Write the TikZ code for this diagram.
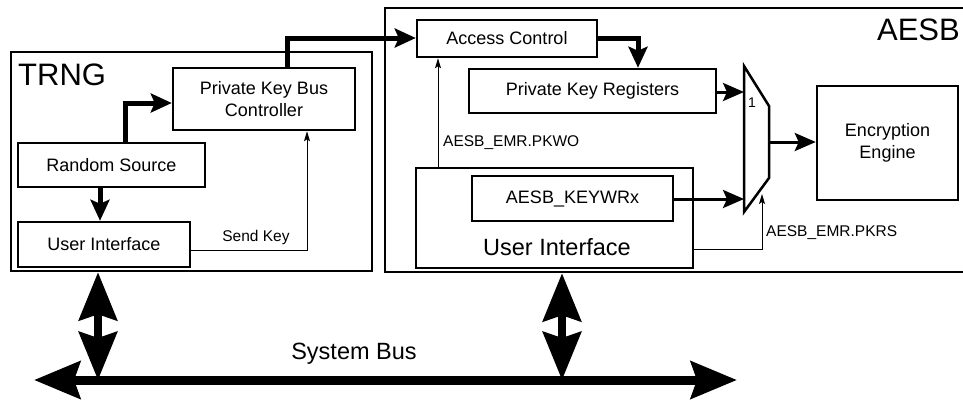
\documentclass[tikz,border=0pt]{standalone}
\usepackage{fontspec}
\setmainfont{Liberation Sans}
\usetikzlibrary{arrows.meta}
\begin{document}
\begin{tikzpicture}[x=1pt,y=-1pt,
  box/.style={draw, line width=2.5pt, inner sep=0pt, align=center, font=\fontsize{18}{22}\selectfont},
  thickarr/.style={line width=5pt, -{Stealth[length=21pt,width=19pt,inset=4pt]}},
  medarr/.style={line width=3pt, -{Stealth[length=21pt,width=18pt,inset=4pt]}},
  thinarr/.style={line width=1pt, -{Stealth[length=10pt,width=6pt,inset=2pt]}},
  busarr/.style={line width=8pt, {Stealth[length=48pt,width=38pt,inset=6pt]}-{Stealth[length=48pt,width=38pt,inset=6pt]}},
  hbusarr/.style={line width=9pt, {Stealth[length=46pt,width=37pt,inset=6pt]}-{Stealth[length=46pt,width=37pt,inset=6pt]}},
  small/.style={font=\fontsize{15.5}{18}\selectfont, inner sep=0pt},
  big/.style={font=\fontsize{31}{34}\selectfont, inner sep=0pt},
  mid/.style={font=\fontsize{23.5}{26}\selectfont, inner sep=0pt},
]
\useasboundingbox (0,0) rectangle (963,400);
\clip (0,0) rectangle (963,400);

% outer blocks
\node[box, minimum width=361pt, minimum height=219pt] (trng) at (191.5,161.5) {};
\node[box, minimum width=590pt, minimum height=264pt] (aesb) at (680,140) {};
\node[big, anchor=base west] (trnglbl) at (18,85) {TRNG};
\node[big, anchor=base east] (aesblbl) at (960,40) {AESB};

% TRNG internals
\node[box, minimum width=182pt, minimum height=62pt] (pkbc) at (264,99) {Private Key Bus\\Controller};
\node[box, minimum width=187pt, minimum height=44pt] (rs) at (111.5,165) {Random Source};
\node[box, minimum width=172pt, minimum height=45pt] (tui) at (104,244.5) {User Interface};

% AESB internals
\node[box, minimum width=180pt, minimum height=37pt] (ac) at (507,38.5) {Access Control};
\node[box, minimum width=247pt, minimum height=44pt] (pkr) at (592.5,91) {Private Key Registers};
\node[box, minimum width=277pt, minimum height=100pt] (aui) at (554.5,218) {};
\node[mid, anchor=base] (auitxt) at (557,255) {User Interface};
\node[box, minimum width=201pt, minimum height=45pt] (kw) at (572.5,198.5) {AESB\_KEYWRx};
\node[box, minimum width=141pt, minimum height=114pt] (enc) at (887.5,143) {Encryption\\Engine};

% multiplexer
\coordinate (m1) at (744,66);
\coordinate (m2) at (769,106);
\coordinate (m3) at (769,178);
\coordinate (m4) at (744,212);
\draw[line width=2.5pt, line join=miter] (m1) -- (m2) -- (m3) -- (m4) -- cycle;
\node[font=\fontsize{14}{16}\selectfont, inner sep=0pt] (one) at (752,103) {1};
\coordinate (in1) at (744,92);
\coordinate (in2) at (744,199);
\coordinate (mout) at (769,142);

% thick connectors
\coordinate (c1) at (125,103);
\draw[thickarr] (c1 |- rs.north) |- (pkbc.west |- c1);
\coordinate (c2) at (100,0);
\draw[thickarr] (c2 |- rs.south) -- (c2 |- tui.north);
\coordinate (c3) at (287,38);
\draw[thickarr] (c3 |- pkbc.north) |- (ac.west |- c3);
\coordinate (c4) at (638,38);
\draw[thickarr] (ac.east |- c4) -| (c4 |- pkr.north);

\draw[medarr] (pkr.east |- in1) -- (in1);
\draw[medarr] (kw.east |- in2) -- (in2);
\draw[medarr] (mout) -- (mout -| enc.west);

% thin connectors
\coordinate (sk) at (307,250);
\draw[thinarr] (tui.east |- sk) -- (sk) -- (sk |- pkbc.south);
\node[small, anchor=center] (sklbl) at (256,237) {Send Key};

\coordinate (pw) at (438,0);
\draw[thinarr] (pw |- aui.north) -- (pw |- ac.south);
\node[small, anchor=west] (pwlbl) at (443,143) {AESB\_EMR.PKWO};

\coordinate (pr) at (762,249);
\coordinate (prt) at (762,194);
\draw[thinarr] (aui.east |- pr) -- (pr) -- (prt);
\node[small, anchor=west] (prlbl) at (766,233) {AESB\_EMR.PKRS};

% system bus
\coordinate (busl) at (34,380);
\coordinate (busr) at (737,380);
\draw[hbusarr] (busl) -- (busr);
\node[mid, anchor=base] (buslbl) at (354,359) {System Bus};
\coordinate (tb) at (98,380);
\draw[busarr] (tb |- trng.south) -- (tb);
\coordinate (ab) at (562,380);
\draw[busarr] (ab |- aesb.south) -- (ab);
\end{tikzpicture}
\end{document}
